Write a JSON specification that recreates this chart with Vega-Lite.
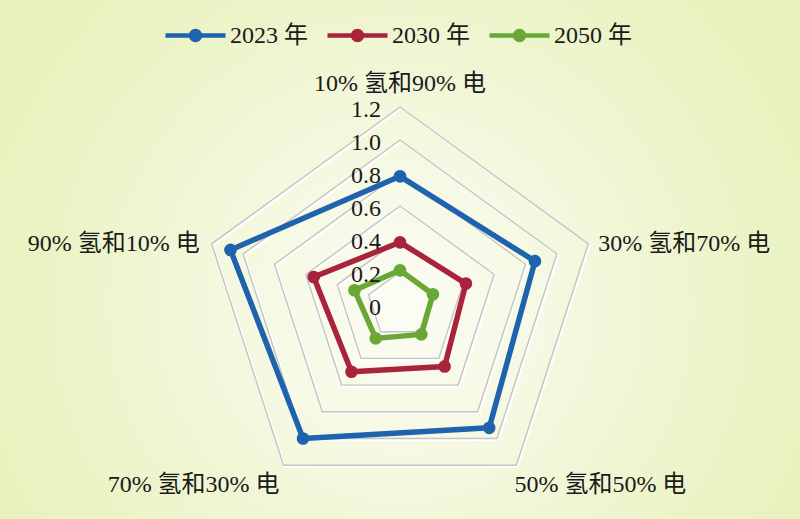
{
  "$schema": "https://vega.github.io/schema/vega-lite/v6.json",
  "width": 800,
  "height": 519,
  "padding": 0,
  "autosize": {"type": "none"},
  "config": {
    "view": {
      "stroke": null,
      "fill": {
        "gradient": "radial",
        "x1": 0.5, "y1": 0.56, "r1": 0,
        "x2": 0.5, "y2": 0.56, "r2": 0.56,
        "stops": [
          {"offset": 0, "color": "#fbfcf4"},
          {"offset": 0.3, "color": "#f6f9e4"},
          {"offset": 0.75, "color": "#ecf4c8"},
          {"offset": 1, "color": "#e8f2bc"}
        ]
      }
    },
    "font": "Liberation Serif",
    "text": {"font": "Liberation Serif, Noto Sans CJK SC", "fontSize": 24, "color": "#1a1a1a"}
  },
  "datasets": {
    "main": [
      {"year": "2023 年", "category": "10% 氢和90% 电", "idx": 0, "value": 0.78},
      {"year": "2023 年", "category": "30% 氢和70% 电", "idx": 1, "value": 0.86},
      {"year": "2023 年", "category": "50% 氢和50% 电", "idx": 2, "value": 0.92},
      {"year": "2023 年", "category": "70% 氢和30% 电", "idx": 3, "value": 1.0},
      {"year": "2023 年", "category": "90% 氢和10% 电", "idx": 4, "value": 1.08},
      {"year": "2030 年", "category": "10% 氢和90% 电", "idx": 0, "value": 0.38},
      {"year": "2030 年", "category": "30% 氢和70% 电", "idx": 1, "value": 0.42},
      {"year": "2030 年", "category": "50% 氢和50% 电", "idx": 2, "value": 0.46},
      {"year": "2030 年", "category": "70% 氢和30% 电", "idx": 3, "value": 0.50},
      {"year": "2030 年", "category": "90% 氢和10% 电", "idx": 4, "value": 0.55},
      {"year": "2050 年", "category": "10% 氢和90% 电", "idx": 0, "value": 0.21},
      {"year": "2050 年", "category": "30% 氢和70% 电", "idx": 1, "value": 0.21},
      {"year": "2050 年", "category": "50% 氢和50% 电", "idx": 2, "value": 0.22},
      {"year": "2050 年", "category": "70% 氢和30% 电", "idx": 3, "value": 0.25},
      {"year": "2050 年", "category": "90% 氢和10% 电", "idx": 4, "value": 0.29}
    ],
    "grid": [
      {"level": 0.2, "idx": [0, 1, 2, 3, 4]},
      {"level": 0.4, "idx": [0, 1, 2, 3, 4]},
      {"level": 0.6, "idx": [0, 1, 2, 3, 4]},
      {"level": 0.8, "idx": [0, 1, 2, 3, 4]},
      {"level": 1.0, "idx": [0, 1, 2, 3, 4]},
      {"level": 1.2, "idx": [0, 1, 2, 3, 4]}
    ],
    "ticks": [
      {"level": 0, "label": "0"},
      {"level": 0.2, "label": "0.2"},
      {"level": 0.4, "label": "0.4"},
      {"level": 0.6, "label": "0.6"},
      {"level": 0.8, "label": "0.8"},
      {"level": 1.0, "label": "1.0"},
      {"level": 1.2, "label": "1.2"}
    ],
    "cats": [
      {"category": "10% 氢和90% 电", "idx": 0, "r": 1.2},
      {"category": "30% 氢和70% 电", "idx": 1, "r": 1.2},
      {"category": "50% 氢和50% 电", "idx": 2, "r": 1.2},
      {"category": "70% 氢和30% 电", "idx": 3, "r": 1.2},
      {"category": "90% 氢和10% 电", "idx": 4, "r": 1.2}
    ]
  },
  "layer": [
    {
      "data": {"name": "grid"},
      "transform": [
        {"flatten": ["idx"]},
        {"calculate": "PI/2 - datum.idx*2*PI/5", "as": "angle"},
        {"calculate": "datum.level*cos(datum.angle)", "as": "px"},
        {"calculate": "datum.level*sin(datum.angle)", "as": "py"}
      ],
      "mark": {"type": "line", "interpolate": "linear-closed", "color": "#ffffff", "strokeWidth": 2, "xOffset": 1.5, "yOffset": 1.5},
      "encoding": {
        "x": {"field": "px", "type": "quantitative", "scale": {"domain": [-2.4242, 2.4242]}, "axis": null},
        "y": {"field": "py", "type": "quantitative", "scale": {"domain": [-1.297, 1.8485]}, "axis": null},
        "detail": {"field": "level"},
        "order": {"field": "idx"}
      }
    },
    {
      "data": {"name": "grid"},
      "transform": [
        {"flatten": ["idx"]},
        {"calculate": "PI/2 - datum.idx*2*PI/5", "as": "angle"},
        {"calculate": "datum.level*cos(datum.angle)", "as": "px"},
        {"calculate": "datum.level*sin(datum.angle)", "as": "py"}
      ],
      "mark": {"type": "line", "interpolate": "linear-closed", "color": "#c4c4c4", "strokeWidth": 1.4},
      "encoding": {
        "x": {"field": "px", "type": "quantitative", "scale": {"domain": [-2.4242, 2.4242]}, "axis": null},
        "y": {"field": "py", "type": "quantitative", "scale": {"domain": [-1.297, 1.8485]}, "axis": null},
        "detail": {"field": "level"},
        "order": {"field": "idx"}
      }
    },
    {
      "data": {"name": "main"},
      "transform": [
        {"calculate": "PI/2 - datum.idx*2*PI/5", "as": "angle"},
        {"calculate": "datum.value*cos(datum.angle)", "as": "px"},
        {"calculate": "datum.value*sin(datum.angle)", "as": "py"}
      ],
      "mark": {"type": "line", "interpolate": "linear-closed", "strokeWidth": 5.5, "strokeJoin": "round"},
      "encoding": {
        "x": {"field": "px", "type": "quantitative", "scale": {"domain": [-2.4242, 2.4242]}, "axis": null},
        "y": {"field": "py", "type": "quantitative", "scale": {"domain": [-1.297, 1.8485]}, "axis": null},
        "order": {"field": "idx"},
        "color": {
          "field": "year", "type": "nominal",
          "scale": {"domain": ["2023 年", "2030 年", "2050 年"], "range": ["#1f62ae", "#a9233b", "#6aa835"]},
          "legend": {
            "title": null, "orient": "none", "legendX": 163, "legendY": 3, "direction": "horizontal",
            "symbolType": "M-1,0L1,0M0.15,0A0.15,0.15,0,1,1,-0.15,0A0.15,0.15,0,1,1,0.15,0Z",
            "symbolSize": 3600, "symbolStrokeWidth": 4.5,
            "labelFont": "Liberation Serif, Noto Sans CJK SC", "labelFontSize": 24, "labelColor": "#1a1a1a",
            "labelOffset": 2, "columnPadding": 10,
            "encode": {"symbols": {"update": {"fill": {"scale": "color", "field": "value"}, "stroke": {"scale": "color", "field": "value"}, "opacity": {"value": 1}}}}
          }
        }
      }
    },
    {
      "data": {"name": "main"},
      "transform": [
        {"calculate": "PI/2 - datum.idx*2*PI/5", "as": "angle"},
        {"calculate": "datum.value*cos(datum.angle)", "as": "px"},
        {"calculate": "datum.value*sin(datum.angle)", "as": "py"}
      ],
      "mark": {"type": "circle", "size": 160, "opacity": 1},
      "encoding": {
        "x": {"field": "px", "type": "quantitative", "scale": {"domain": [-2.4242, 2.4242]}, "axis": null},
        "y": {"field": "py", "type": "quantitative", "scale": {"domain": [-1.297, 1.8485]}, "axis": null},
        "color": {
          "field": "year", "type": "nominal",
          "scale": {"domain": ["2023 年", "2030 年", "2050 年"], "range": ["#1f62ae", "#a9233b", "#6aa835"]},
          "legend": {
            "title": null, "orient": "none", "legendX": 163, "legendY": 3, "direction": "horizontal",
            "symbolType": "M-1,0L1,0M0.15,0A0.15,0.15,0,1,1,-0.15,0A0.15,0.15,0,1,1,0.15,0Z",
            "symbolSize": 3600, "symbolStrokeWidth": 4.5,
            "labelFont": "Liberation Serif, Noto Sans CJK SC", "labelFontSize": 24, "labelColor": "#1a1a1a",
            "labelOffset": 2, "columnPadding": 10,
            "encode": {"symbols": {"update": {"fill": {"scale": "color", "field": "value"}, "stroke": {"scale": "color", "field": "value"}, "opacity": {"value": 1}}}}
          }
        }
      }
    },
    {
      "data": {"name": "ticks"},
      "mark": {"type": "text", "align": "right", "baseline": "middle", "dx": -19, "dy": 3},
      "encoding": {
        "x": {"datum": 0, "type": "quantitative", "scale": {"domain": [-2.4242, 2.4242]}, "axis": null},
        "y": {"field": "level", "type": "quantitative", "scale": {"domain": [-1.297, 1.8485]}, "axis": null},
        "text": {"field": "label"}
      }
    },
    {
      "data": {"name": "cats"},
      "transform": [
        {"filter": "datum.idx == 0"},
        {"calculate": "PI/2 - datum.idx*2*PI/5", "as": "angle"},
        {"calculate": "datum.r*cos(datum.angle)", "as": "px"},
        {"calculate": "datum.r*sin(datum.angle)", "as": "py"}
      ],
      "mark": {"type": "text", "align": "center", "baseline": "middle", "dy": -23},
      "encoding": {
        "x": {"field": "px", "type": "quantitative", "scale": {"domain": [-2.4242, 2.4242]}, "axis": null},
        "y": {"field": "py", "type": "quantitative", "scale": {"domain": [-1.297, 1.8485]}, "axis": null},
        "text": {"field": "category"}
      }
    },
    {
      "data": {"name": "cats"},
      "transform": [
        {"filter": "datum.idx == 1"},
        {"calculate": "PI/2 - datum.idx*2*PI/5", "as": "angle"},
        {"calculate": "datum.r*cos(datum.angle)", "as": "px"},
        {"calculate": "datum.r*sin(datum.angle)", "as": "py"}
      ],
      "mark": {"type": "text", "align": "left", "baseline": "middle", "dx": 10, "dy": 0},
      "encoding": {
        "x": {"field": "px", "type": "quantitative", "scale": {"domain": [-2.4242, 2.4242]}, "axis": null},
        "y": {"field": "py", "type": "quantitative", "scale": {"domain": [-1.297, 1.8485]}, "axis": null},
        "text": {"field": "category"}
      }
    },
    {
      "data": {"name": "cats"},
      "transform": [
        {"filter": "datum.idx == 2"},
        {"calculate": "PI/2 - datum.idx*2*PI/5", "as": "angle"},
        {"calculate": "datum.r*cos(datum.angle)", "as": "px"},
        {"calculate": "datum.r*sin(datum.angle)", "as": "py"}
      ],
      "mark": {"type": "text", "align": "left", "baseline": "middle", "dx": -2, "dy": 20},
      "encoding": {
        "x": {"field": "px", "type": "quantitative", "scale": {"domain": [-2.4242, 2.4242]}, "axis": null},
        "y": {"field": "py", "type": "quantitative", "scale": {"domain": [-1.297, 1.8485]}, "axis": null},
        "text": {"field": "category"}
      }
    },
    {
      "data": {"name": "cats"},
      "transform": [
        {"filter": "datum.idx == 3"},
        {"calculate": "PI/2 - datum.idx*2*PI/5", "as": "angle"},
        {"calculate": "datum.r*cos(datum.angle)", "as": "px"},
        {"calculate": "datum.r*sin(datum.angle)", "as": "py"}
      ],
      "mark": {"type": "text", "align": "right", "baseline": "middle", "dx": -4, "dy": 20},
      "encoding": {
        "x": {"field": "px", "type": "quantitative", "scale": {"domain": [-2.4242, 2.4242]}, "axis": null},
        "y": {"field": "py", "type": "quantitative", "scale": {"domain": [-1.297, 1.8485]}, "axis": null},
        "text": {"field": "category"}
      }
    },
    {
      "data": {"name": "cats"},
      "transform": [
        {"filter": "datum.idx == 4"},
        {"calculate": "PI/2 - datum.idx*2*PI/5", "as": "angle"},
        {"calculate": "datum.r*cos(datum.angle)", "as": "px"},
        {"calculate": "datum.r*sin(datum.angle)", "as": "py"}
      ],
      "mark": {"type": "text", "align": "right", "baseline": "middle", "dx": -12, "dy": 0},
      "encoding": {
        "x": {"field": "px", "type": "quantitative", "scale": {"domain": [-2.4242, 2.4242]}, "axis": null},
        "y": {"field": "py", "type": "quantitative", "scale": {"domain": [-1.297, 1.8485]}, "axis": null},
        "text": {"field": "category"}
      }
    }
  ]
}
